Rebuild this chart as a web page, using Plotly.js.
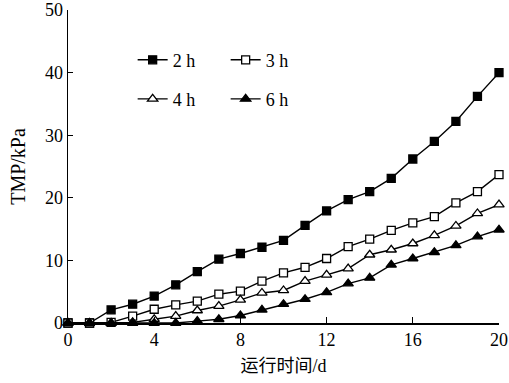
<!DOCTYPE html>
<html><head><meta charset="utf-8">
<script src="https://cdn.plot.ly/plotly-3.0.1.min.js"></script>
<style>html,body{margin:0;padding:0;background:#fff}</style>
</head><body>
<div id="chart" style="width:509px;height:383px"></div>
<script>
const days = [0,1,2,3,4,5,6,7,8,9,10,11,12,13,14,15,16,17,18,19,20];
const tmp2h = [0,0,2.1,3.0,4.3,6.1,8.2,10.2,11.1,12.1,13.2,15.6,17.9,19.7,21.0,23.1,26.2,29.0,32.2,36.2,40.0];
const tmp3h = [0,0,0.1,1.1,2.2,2.9,3.5,4.6,5.1,6.7,8.0,8.9,10.3,12.2,13.4,14.8,16.0,17.0,19.2,21.0,23.7];
const tmp4h = [0,0,0,0.1,0.6,1.1,2.0,2.7,3.7,4.8,5.2,6.7,7.7,8.7,10.9,11.7,12.7,14.0,15.5,17.5,18.9];
const tmp6h = [0,0,0,0,0,0,0.3,0.6,1.2,2.1,3.0,3.8,4.9,6.3,7.2,9.3,10.3,11.3,12.4,13.8,14.9];
const seriesNames = ['2 h','3 h','4 h','6 h'];
const xTicks = [0,4,8,12,16,20];
const yTicks = [0,10,20,30,40,50];

const serif = '"Liberation Serif", "Times New Roman", serif';
const cjk = '"Liberation Serif", "Noto Sans CJK SC", serif';
function tr(y, name, symbol, fill, legend){
  return {x: days, y: y, name: name, type:'scatter', mode:'lines+markers',
    line:{color:'#000', width:1.4},
    marker:{symbol: symbol, size: symbol==='square' ? 8 : 9, color: fill, line:{color:'#000', width:1.3}},
    cliponaxis:false, legend: legend};
}
const data = [
  tr(tmp2h, seriesNames[0], 'square', '#000', 'legend'),
  tr(tmp3h, seriesNames[1], 'square', '#fff', 'legend'),
  tr(tmp4h, seriesNames[2], 'triangle-up', '#fff', 'legend2'),
  tr(tmp6h, seriesNames[3], 'triangle-up', '#000', 'legend2')
];
const legBase = {orientation:'h', x:0.15, xanchor:'left', yanchor:'middle', bgcolor:'rgba(0,0,0,0)',
  font:{family:serif, size:18, color:'#000'}, entrywidth:48, traceorder:'normal'};
const layout = {
  width:509, height:383,
  margin:{l:68, r:10, t:10, b:60},
  paper_bgcolor:'#fff', plot_bgcolor:'#fff',
  showlegend:true,
  legend: Object.assign({}, legBase, {y:0.84}),
  legend2: Object.assign({}, legBase, {y:0.715}),
  xaxis:{range:[0,20], tickvals:xTicks, ticktext:xTicks.map(String), ticks:'inside', ticklen:6, tickwidth:1.3, tickcolor:'#000',
    showline:true, linecolor:'#000', linewidth:1.5, showgrid:false, zeroline:false, ticklabeloverflow:'allow',
    tickfont:{family:serif, size:18, color:'#000'},
    title:{text:'运行时间/d', font:{family:cjk, size:18, color:'#000'}, standoff:10}},
  yaxis:{range:[0,50], tickvals:yTicks, ticktext:yTicks.map(String), ticks:'inside', ticklen:5, tickwidth:1.3, tickcolor:'#000',
    showline:true, linecolor:'#000', linewidth:1.5, showgrid:false, zeroline:false, ticklabeloverflow:'allow',
    tickfont:{family:serif, size:18, color:'#000'},
    title:{text:'TMP/kPa', font:{family:serif, size:20, color:'#000'}, standoff:14}},
  font:{family:serif, color:'#000'}
};
Plotly.newPlot('chart', data, layout, {staticPlot:true, displayModeBar:false});
</script>
</body></html>
